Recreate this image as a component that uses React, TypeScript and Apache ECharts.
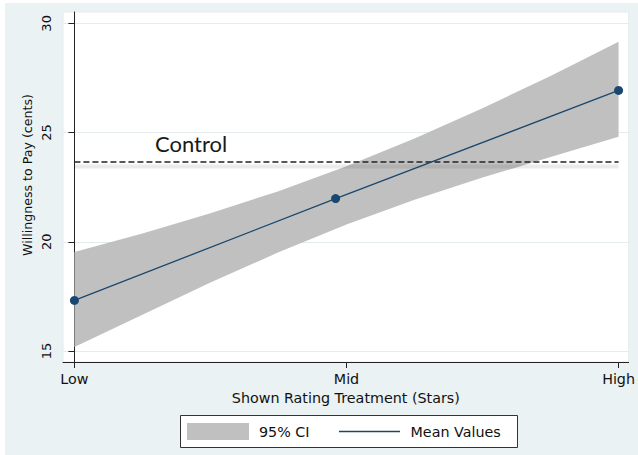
import React, { useEffect, useRef } from "react";
import * as echarts from "echarts";

// ---- data ----
const xLabels = ["Low", "Mid", "High"];
const xTickValues = [0, 1, 2];
const yTickValues = [15, 20, 25, 30];

const meanX = [0, 0.96, 2];
const meanY = [17.32, 21.98, 26.93];

const ciX = [0, 0.25, 0.5, 0.75, 1, 1.25, 1.5, 1.75, 2];
const ciLower = [15.19, 16.66, 18.14, 19.52, 20.79, 21.93, 22.94, 23.88, 24.81];
const ciUpper = [19.54, 20.38, 21.31, 22.32, 23.46, 24.73, 26.12, 27.59, 29.16];

const controlX = [0, 2];
const controlValue = 23.65;

const NAVY = "#1a476f";
const BAND = "#c0c0c0";
const AXIS = "#222222";
const FONT = "DejaVu Sans";

export default function App() {
  const ref = useRef<HTMLDivElement>(null);

  useEffect(() => {
    if (!ref.current) return;
    const chart = echarts.init(ref.current, undefined, { renderer: "svg" });

    const bandData = ciX.map((x, i) => [x, ciLower[i], ciUpper[i]]);
    const meanData = meanX.map((x, i) => [x, meanY[i]]);
    const controlData = controlX.map((x) => [x, controlValue]);
    const shadowData = controlX.map((x) => [x, controlValue - 0.2]);

    chart.setOption({
      animation: false,
      backgroundColor: "#eaf2f3",
      grid: {
        left: 63,
        top: 12,
        right: 6,
        bottom: 93,
        show: true,
        backgroundColor: "#ffffff",
        borderColor: "#e3ecee",
        borderWidth: 1,
      },
      xAxis: {
        type: "value",
        min: -0.042,
        max: 2.037,
        name: "Shown Rating Treatment (Stars)",
        nameLocation: "middle",
        nameGap: 28,
        nameTextStyle: { fontFamily: FONT, fontSize: 14.3, color: "#111" },
        axisLine: { show: true, lineStyle: { color: AXIS, width: 1 } },
        axisTick: { show: true, length: 6, customValues: xTickValues, lineStyle: { color: AXIS } },
        axisLabel: {
          customValues: xTickValues,
          margin: 10,
          fontFamily: FONT,
          fontSize: 14.3,
          color: "#111",
          formatter: (v: number) => xLabels[xTickValues.indexOf(v)] ?? "",
        },
        splitLine: { show: false },
      },
      yAxis: {
        type: "value",
        min: 14.5,
        max: 30.52,
        axisLine: { show: true, lineStyle: { color: AXIS, width: 1 } },
        axisTick: { show: true, length: 6, customValues: yTickValues, lineStyle: { color: AXIS } },
        axisLabel: {
          customValues: yTickValues,
          rotate: 90,
          margin: 10,
          fontFamily: FONT,
          fontSize: 13,
          color: "#111",
        },
        splitLine: { show: false },
      },
      series: [
        {
          name: "95% CI",
          type: "custom",
          data: bandData,
          silent: true,
          z: 1,
          renderItem: (params: any, api: any) => {
            if (params.dataIndex !== 0) return null;
            const upper = ciX.map((x, i) => api.coord([x, ciUpper[i]]));
            const lower = ciX.map((x, i) => api.coord([x, ciLower[i]])).reverse();
            return {
              type: "polygon",
              shape: { points: upper.concat(lower) },
              style: { fill: BAND, stroke: "none" },
            };
          },
          markLine: {
            silent: true,
            symbol: "none",
            label: { show: false },
            lineStyle: { color: "#e4ecee", type: "solid", width: 1 },
            data: yTickValues.map((v) => ({ yAxis: v })),
            z: 0,
          },
        },
        {
          name: "ControlShadow",
          type: "line",
          data: shadowData,
          symbol: "none",
          silent: true,
          z: 2,
          lineStyle: { color: "rgba(0,0,0,0.08)", width: 4, type: "solid" },
        },
        {
          name: "Control",
          type: "line",
          data: controlData,
          symbol: "none",
          silent: true,
          z: 3,
          lineStyle: { color: "#222222", width: 1.5, type: [6, 3] },
        },
        {
          name: "Mean Values",
          type: "line",
          data: meanData,
          symbol: "circle",
          symbolSize: 9,
          z: 4,
          itemStyle: { color: NAVY },
          lineStyle: { color: NAVY, width: 1.3 },
          silent: true,
        },
      ],
      graphic: [
        { type: "rect", left: 0, top: 0, shape: { width: 5, height: 455 }, style: { fill: "#ffffff" }, silent: true },
        { type: "rect", left: 0, top: 0, shape: { width: 638, height: 3 }, style: { fill: "#ffffff" }, silent: true },
        {
          type: "text",
          x: 27,
          y: 175,
          rotation: Math.PI / 2,
          style: {
            text: "Willingness to Pay (cents)",
            fontFamily: FONT,
            fontSize: 12.6,
            fill: "#111",
            align: "center",
            verticalAlign: "middle",
          },
        },
        {
          type: "text",
          x: 155,
          y: 143,
          style: {
            text: "Control",
            fontFamily: "Lato",
            fontSize: 22,
            fill: "#1a1a1a",
            align: "left",
            verticalAlign: "middle",
          },
        },
        {
          type: "rect",
          shape: { x: 180.5, y: 415.5, width: 337, height: 32 },
          style: { fill: "#ffffff", stroke: "#333333", lineWidth: 1 },
        },
        {
          type: "rect",
          shape: { x: 187, y: 423, width: 62, height: 17 },
          style: { fill: BAND },
        },
        {
          type: "text",
          x: 259,
          y: 431.5,
          style: { text: "95% CI", fontFamily: FONT, fontSize: 14.3, fill: "#111", verticalAlign: "middle" },
        },
        {
          type: "line",
          shape: { x1: 339, y1: 431.5, x2: 400, y2: 431.5 },
          style: { stroke: NAVY, lineWidth: 1.3 },
        },
        {
          type: "text",
          x: 410.5,
          y: 431.5,
          style: { text: "Mean Values", fontFamily: FONT, fontSize: 14.3, fill: "#111", verticalAlign: "middle" },
        },
      ],
    });

    return () => chart.dispose();
  }, []);

  return (
    <div
      ref={ref}
      style={{ position: "fixed", left: 0, top: 0, width: 638, height: 455 }}
    />
  );
}
